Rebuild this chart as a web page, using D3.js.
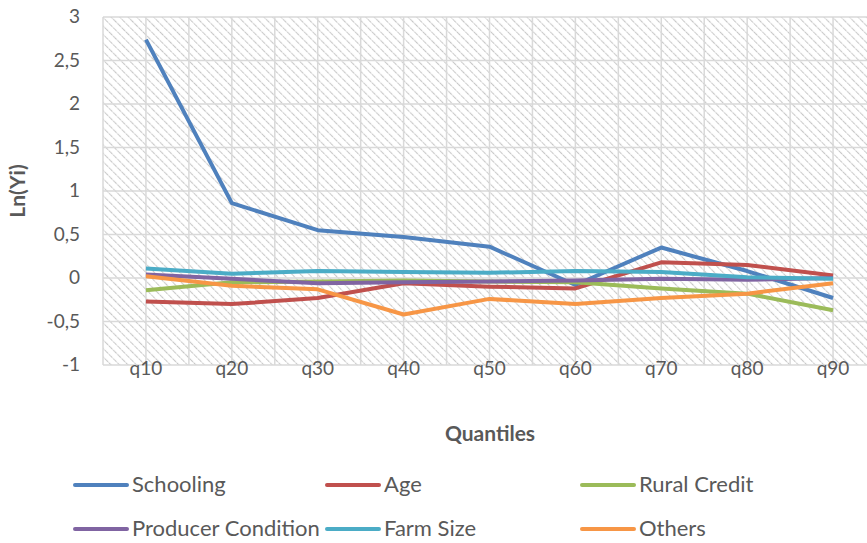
<!DOCTYPE html>
<html><head><meta charset="utf-8">
<script src="https://cdn.jsdelivr.net/npm/d3@7"></script>
<style>body{margin:0;background:#fff}svg{display:block}text{font-family:Lato,"Open Sans",sans-serif;fill:#595959}</style>
</head><body>
<svg id="c" width="867" height="543"></svg>
<script>
const quantiles = ["q10","q20","q30","q40","q50","q60","q70","q80","q90"];
const yTicks = [-1,-0.5,0,0.5,1,1.5,2,2.5,3];
const seriesNames = ["Schooling","Age","Rural Credit","Producer Condition","Farm Size","Others"];
const schooling = [2.74,0.86,0.55,0.47,0.36,-0.08,0.35,0.08,-0.23];
const age = [-0.27,-0.30,-0.23,-0.06,-0.10,-0.12,0.18,0.15,0.03];
const ruralCredit = [-0.14,-0.05,-0.04,-0.03,-0.04,-0.05,-0.12,-0.18,-0.37];
const producerCondition = [0.04,-0.01,-0.06,-0.05,-0.04,-0.03,-0.01,-0.02,0.00];
const farmSize = [0.11,0.05,0.08,0.07,0.06,0.08,0.07,0.01,-0.01];
const others = [0.02,-0.09,-0.13,-0.42,-0.24,-0.30,-0.23,-0.18,-0.06];
const colors = ["#4F81BD","#C0504D","#9BBB59","#8064A2","#4BACC6","#F79646"];
const allSeries = [schooling,age,ruralCredit,producerCondition,farmSize,others];

const svg = d3.select("#c");
const L=103, R=876, T=17, B=365;
const x = d3.scalePoint().domain(quantiles).range([L,R]).padding(0.5);
const y = d3.scaleLinear().domain([-1,3]).range([B,T]);
const step = x.step();

// hatch pattern
const defs = svg.append("defs");
const pat = defs.append("pattern").attr("id","hatch").attr("patternUnits","userSpaceOnUse")
  .attr("width",6).attr("height",6).attr("patternTransform","rotate(-45)");
pat.append("line").attr("x1",0).attr("y1",0).attr("x2",0).attr("y2",6)
  .attr("stroke","#c6c6c6").attr("stroke-width",2.2).attr("stroke-dasharray","2.4,1");
defs.append("clipPath").attr("id","clip").append("rect").attr("x",L).attr("y",T).attr("width",R-L).attr("height",B-T);

svg.append("rect").attr("x",L).attr("y",T).attr("width",R-L).attr("height",B-T).attr("fill","url(#hatch)");

// gridlines
const g = svg.append("g");
const vlines = [];
quantiles.forEach(q=>{vlines.push(x(q)-step/2); vlines.push(x(q));});
vlines.push(x(quantiles[quantiles.length-1])+step/2);
g.selectAll("line.v").data(vlines).join("line").attr("class","v")
  .attr("x1",d=>d).attr("x2",d=>d).attr("y1",T).attr("y2",B).attr("stroke","#d9d9d9").attr("stroke-width",1.5);
g.selectAll("line.h").data(yTicks).join("line").attr("class","h")
  .attr("x1",L).attr("x2",R).attr("y1",d=>y(d)).attr("y2",d=>y(d)).attr("stroke","#d9d9d9").attr("stroke-width",1.5);

// y axis labels
const fmt = d=> String(d).replace(".",",");
svg.append("g").selectAll("text").data(yTicks).join("text")
  .attr("x",80).attr("y",d=>y(d)+6).attr("text-anchor","end").attr("font-size",19).text(fmt);
// x axis labels
svg.append("g").selectAll("text").data(quantiles).join("text")
  .attr("x",d=>x(d)).attr("y",375).attr("text-anchor","middle").attr("font-size",19).text(d=>d);

svg.append("text").attr("x",490).attr("y",441).attr("text-anchor","middle").attr("font-size",21).attr("font-weight","bold").text("Quantiles");
svg.append("text").attr("transform","translate(25,191) rotate(-90)").attr("text-anchor","middle").attr("font-size",21).attr("font-weight","bold").text("Ln(Yi)");

// lines
const line = d3.line().x((d,i)=>x(quantiles[i])).y(d=>y(d));
svg.append("g").attr("clip-path","url(#clip)").selectAll("path").data(allSeries).join("path")
  .attr("d",line).attr("fill","none").attr("stroke",(d,i)=>colors[i]).attr("stroke-width",4).attr("stroke-linejoin","round");

// legend
const legX = [75,327,582], legY=[485,529];
const leg = svg.append("g").selectAll("g").data(seriesNames).join("g")
  .attr("transform",(d,i)=>`translate(${legX[i%3]},${legY[Math.floor(i/3)]})`);
leg.append("line").attr("x1",0).attr("x2",52).attr("y1",0).attr("y2",0).attr("stroke",(d,i)=>colors[i]).attr("stroke-width",4).attr("stroke-linecap","round");
leg.append("text").attr("x",57).attr("y",7).attr("font-size",22).text(d=>d);
</script>
</body></html>
